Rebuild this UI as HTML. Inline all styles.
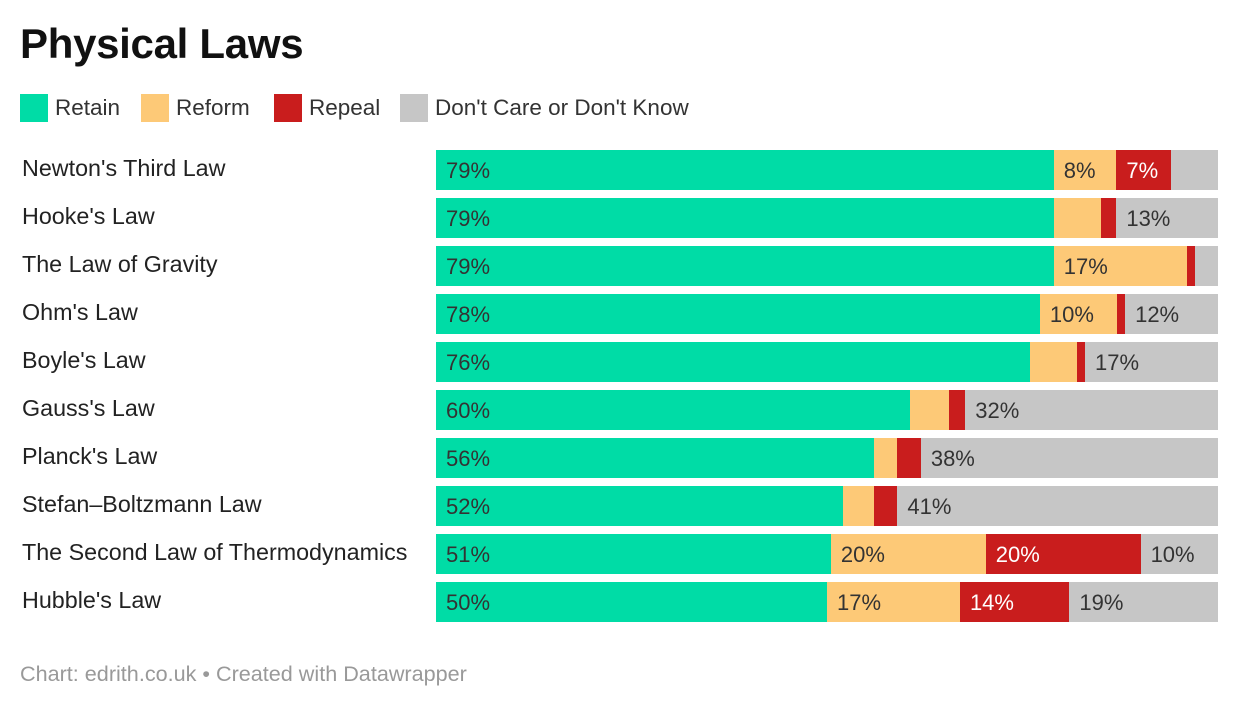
<!DOCTYPE html>
<html><head><meta charset="utf-8"><style>
body{margin:0;background:#fff;font-family:"Liberation Sans",sans-serif;}
#wrap{position:relative;width:1240px;height:708px;overflow:hidden;}
.title{position:absolute;left:20px;top:20px;font-size:42px;font-weight:bold;color:#111;letter-spacing:-0.3px}
.leg{position:absolute;top:94px;height:28px;display:flex;align-items:center;font-size:22.5px;color:#333}
.sw{width:28px;height:28px;margin-right:7px}
.lab{position:absolute;left:22px;font-size:23.3px;color:#222;line-height:40px}
.seg{position:absolute;height:40px;font-size:22px;line-height:42px;box-sizing:border-box;padding-left:10px;white-space:nowrap;overflow:hidden}
.foot{position:absolute;left:20px;top:661px;font-size:21.6px;color:#999}
</style></head><body>
<div id="wrap">
<div class="title">Physical Laws</div>
<div class="leg" style="left:20px"><div class="sw" style="background:#00dca6"></div>Retain</div>
<div class="leg" style="left:141px"><div class="sw" style="background:#fdc977"></div>Reform</div>
<div class="leg" style="left:274px"><div class="sw" style="background:#c91d1d"></div>Repeal</div>
<div class="leg" style="left:400px"><div class="sw" style="background:#c6c6c6"></div>Don't Care or Don't Know</div>
<div id="rows"></div>
<div class="foot">Chart: edrith.co.uk • Created with Datawrapper</div>
</div>
<script>
const categories=["Newton's Third Law","Hooke's Law","The Law of Gravity","Ohm's Law","Boyle's Law","Gauss's Law","Planck's Law","Stefan–Boltzmann Law","The Second Law of Thermodynamics","Hubble's Law"];
const retain=[79,79,79,78,76,60,56,52,51,50];
const reform=[8,6,17,10,6,5,3,4,20,17];
const repeal=[7,2,1,1,1,2,3,3,20,14];
const other=[6,13,3,12,17,32,38,41,10,19];
const colors=["#00dca6","#fdc977","#c91d1d","#c6c6c6"];
const names=["retain","reform","repeal","dont-care"];
const x0=436,W=782,y0=150,pitch=48;
const rows=document.getElementById('rows');
categories.forEach((c,i)=>{
  const lab=document.createElement('div');
  lab.className='lab';lab.style.top=(y0+i*pitch-2)+'px';lab.textContent=c;
  
  
  rows.appendChild(lab);
  const vals=[retain[i],reform[i],repeal[i],other[i]];
  const tot=vals.reduce((a,b)=>a+b,0);
  let acc=0;
  vals.forEach((v,k)=>{
    const s=document.createElement('div');s.className='seg';
    const l=x0+acc/tot*W,w=v/tot*W;acc+=v;
    s.style.left=l+'px';s.style.width=w+'px';s.style.top=(y0+i*pitch)+'px';
    s.style.background=colors[k];s.style.color=k==2?'#fff':'#333';
    if(v>=7)s.textContent=v+'%';
    
    
    rows.appendChild(s);
  });
});
</script>
</body></html>
